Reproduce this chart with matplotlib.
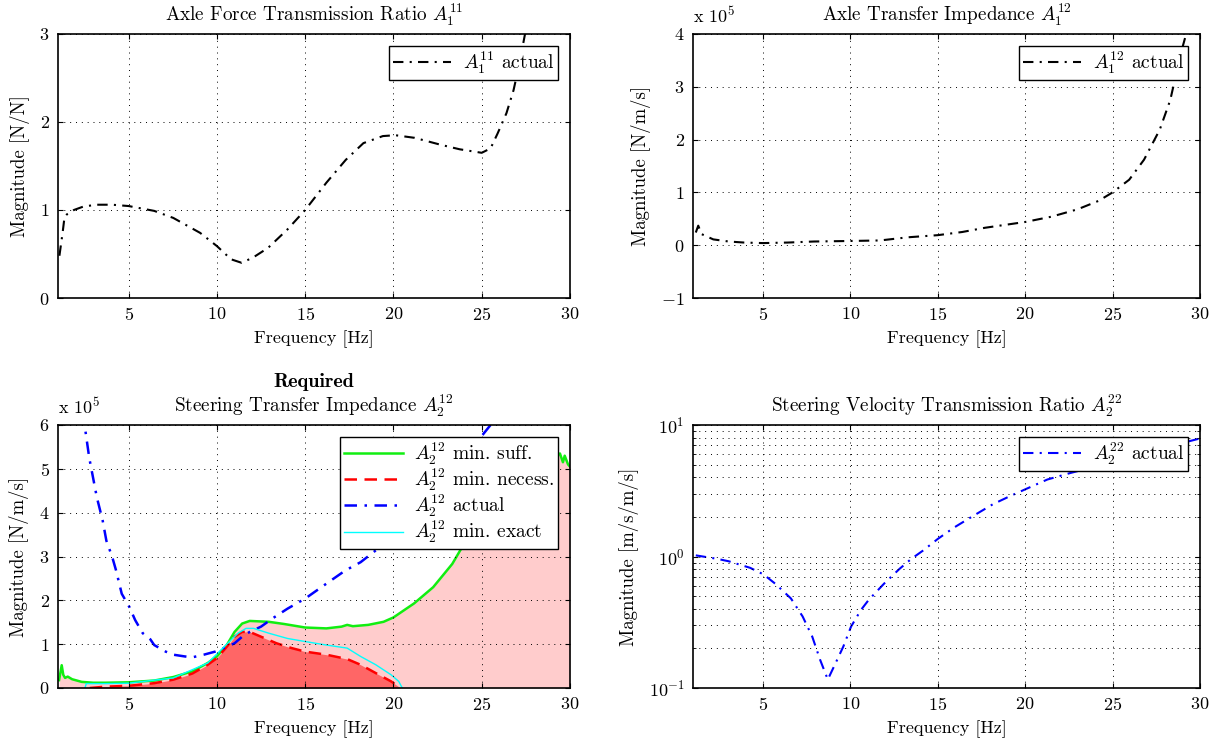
import matplotlib
matplotlib.use('Agg')
import matplotlib.pyplot as plt

# Computer Modern look, like the MATLAB/LaTeX export
plt.rcParams['font.family'] = 'cmr10'
plt.rcParams['mathtext.fontset'] = 'cm'
plt.rcParams['axes.formatter.use_mathtext'] = True
plt.rcParams['font.size'] = 13

# Axle force transmission ratio A1^11 [N/N]
f11 = [1.08, 1.26, 1.37, 1.5, 1.7, 1.9, 2.45, 3.2, 4.07, 5.0, 6.45, 7.53, 9.05, 10.0,
       10.8, 11.4, 12.05, 12.9, 14.0, 15.0, 16.2, 17.3, 18.3, 19.4, 20.1, 21.2, 22.7,
       23.75, 25.0, 25.5, 25.9, 26.4, 26.8, 27.1, 27.5]
a11 = [0.48, 0.74, 0.92, 0.95, 0.97, 1.0, 1.04, 1.06, 1.06, 1.045, 0.99, 0.91, 0.74, 0.59,
       0.44, 0.40, 0.46, 0.57, 0.78, 1.0, 1.31, 1.57, 1.76, 1.84, 1.85, 1.82, 1.74,
       1.69, 1.65, 1.70, 1.87, 2.1, 2.36, 2.63, 3.05]

# Axle transfer impedance A1^12 [N/m/s], in units of 1e5
f12 = [1.16, 1.3, 1.49, 2.16, 3.04, 3.93, 5.0, 6.4, 7.93, 10.0, 11.7, 13.3, 15.0, 16.4,
       17.7, 20.0, 21.5, 23.0, 24.2, 25.0, 25.95, 26.8, 27.7, 28.3, 28.6, 28.95, 29.25]
a12 = [0.24, 0.37, 0.21, 0.11, 0.07, 0.05, 0.04, 0.05, 0.07, 0.08, 0.09, 0.15, 0.19, 0.25,
       0.33, 0.44, 0.54, 0.68, 0.84, 1.0, 1.24, 1.62, 2.19, 2.75, 3.19, 3.69, 4.05]

# Steering transfer impedance A2^12 [N/m/s], in units of 1e5
f_suff = [1.06, 1.21, 1.3, 1.4, 1.55, 1.8, 2.34, 3.0, 3.66, 5.0, 6.45, 7.53, 8.61, 9.48,
          10.0, 10.56, 11.0, 11.43, 11.86, 12.94, 13.81, 15.0, 16.2, 17.06, 17.38, 17.7,
          18.57, 19.44, 20.0, 21.17, 22.25, 23.33, 24.0, 24.63, 25.5, 26.5, 27.5, 28.5,
          29.2, 29.43, 29.6, 29.7, 29.89, 30.0]
a_suff = [0.18, 0.52, 0.3, 0.23, 0.26, 0.2, 0.14, 0.12, 0.12, 0.13, 0.17, 0.25, 0.38, 0.57,
          0.72, 0.98, 1.28, 1.47, 1.53, 1.51, 1.46, 1.38, 1.36, 1.40, 1.44, 1.41,
          1.44, 1.51, 1.61, 1.93, 2.3, 2.83, 3.29, 3.89, 4.45, 4.85, 5.1, 5.22,
          5.28, 5.35, 5.15, 5.3, 5.1, 5.05]

f_nec = [2.8, 3.66, 5.0, 6.45, 7.53, 8.61, 9.48, 10.0, 10.56, 11.0, 11.43, 11.86, 12.5,
         13.38, 14.24, 15.0, 16.2, 17.38, 18.14, 19.0, 19.87, 20.4]
a_nec = [0.0, 0.03, 0.05, 0.11, 0.19, 0.33, 0.53, 0.68, 0.94, 1.17, 1.28, 1.28, 1.17,
         1.02, 0.91, 0.83, 0.76, 0.66, 0.53, 0.34, 0.15, 0.0]

f_act = [2.4, 2.77, 3.2, 3.53, 3.74, 4.07, 4.29, 4.61, 5.04, 5.37, 5.8, 6.23, 6.45, 7.1,
         7.53, 8.18, 8.61, 9.26, 9.9, 10.56, 11.0, 11.43, 11.86, 12.5, 13.16, 14.0, 15.0,
         16.2, 17.27, 18.14, 19.0, 19.65, 21.0, 22.5, 24.0, 25.06, 25.7]
a_act = [6.3, 5.25, 4.35, 3.82, 3.36, 2.99, 2.68, 2.15, 1.85, 1.55, 1.25, 1.11, 0.98, 0.83,
         0.76, 0.72, 0.70, 0.76, 0.83, 0.94, 1.02, 1.17, 1.28, 1.40, 1.59, 1.81, 2.04,
         2.38, 2.68, 2.87, 3.14, 3.36, 4.0, 4.7, 5.35, 5.78, 6.1]

f_exact = [2.53, 2.6, 3.66, 5.0, 7.53, 9.48, 10.56, 11.2, 11.65, 12.08, 12.94, 14.0, 15.0,
           16.2, 17.38, 18.14, 19.0, 19.87, 20.3, 20.5]
a_exact = [0.0, 0.1, 0.1, 0.11, 0.23, 0.57, 1.0, 1.25, 1.36, 1.36, 1.25, 1.13, 1.06,
           0.98, 0.91, 0.72, 0.53, 0.30, 0.15, 0.0]

# Steering velocity transmission ratio A2^22 [m/s/m/s]
f22 = [1.16, 2.38, 3.04, 4.27, 5.04, 5.71, 6.6, 7.27, 7.82, 8.27, 8.71, 9.16, 9.6, 10.04,
       10.6, 11.04, 11.93, 12.82, 13.49, 14.16, 15.0, 15.93, 17.04, 18.16, 19.04, 20.0,
       21.27, 22.6, 23.7, 25.0, 27.5, 30.0]
a22 = [1.02, 0.96, 0.92, 0.82, 0.73, 0.62, 0.48, 0.35, 0.246, 0.164, 0.116, 0.155, 0.207,
       0.293, 0.391, 0.466, 0.622, 0.807, 0.96, 1.11, 1.36, 1.66, 2.04, 2.5, 2.84, 3.24,
       3.85, 4.32, 4.71, 5.3, 6.5, 7.9]

xticks = [5, 10, 15, 20, 25, 30]
dashdot = (0, (5, 3, 1, 3))


def style_axis(ax, title, ylabel):
    ax.set_xlim(1, 30)
    ax.set_xticks(xticks)
    ax.set_xlabel('Frequency [Hz]', labelpad=5)
    ax.set_ylabel(ylabel, fontsize=13.5, labelpad=7)
    ax.set_title(title, pad=9, fontsize=13.8)
    ax.tick_params(direction='in', top=True, right=True, which='both', pad=6)
    ax.grid(True, color='black', linestyle=(0, (1, 5)), linewidth=0.7)
    ax.set_axisbelow(False)
    for s in ax.spines.values():
        s.set_linewidth(1.2)


def add_legend(ax):
    leg = ax.legend(loc='upper right', fancybox=False, framealpha=1, edgecolor='black',
                    fontsize=14, handlelength=3.0, borderaxespad=0.6, labelspacing=0.0,
                    borderpad=0.2, handletextpad=0.6)
    leg.get_frame().set_linewidth(1.0)
    return leg


fig = plt.figure(figsize=(12.26, 7.46), dpi=100)
W, H = 1226, 746


def axes_px(x0, x1, y0, y1):
    return fig.add_axes([x0 / W, 1 - y1 / H, (x1 - x0) / W, (y1 - y0) / H])


# top left
ax1 = axes_px(58, 570, 34, 298)
ax1.plot(f11, a11, color='black', linestyle=dashdot, linewidth=1.5, label=r'$A_1^{11}$ actual')
ax1.set_ylim(0, 3)
ax1.set_yticks([0, 1, 2, 3])
style_axis(ax1, r'Axle Force Transmission Ratio $A_1^{11}$', 'Magnitude [N/N]')
add_legend(ax1)

# top right
ax2 = axes_px(693, 1200, 34, 298)
ax2.plot(f12, a12, color='black', linestyle=dashdot, linewidth=1.5, label=r'$A_1^{12}$ actual')
ax2.set_ylim(-1, 4)
ax2.set_yticks([-1, 0, 1, 2, 3, 4])
style_axis(ax2, r'Axle Transfer Impedance $A_1^{12}$', 'Magnitude [N/m/s]')
ax2.text(0, 1.03, r'x 10$^5$', transform=ax2.transAxes, ha='left', va='bottom')
add_legend(ax2)

# bottom left
ax3 = axes_px(58, 570, 425, 688)
ax3.fill_between(f_suff, 0, a_suff, color='#ffcccc', linewidth=0, zorder=1)
ax3.fill_between(f_nec, 0, a_nec, color='#ff6666', linewidth=0, zorder=1.1)
ax3.plot(f_suff, a_suff, color='#11ee11', linewidth=1.8, label=r'$A_2^{12}$ min. suff.')
ax3.plot(f_nec, a_nec, color='#ff0000', linestyle=(0, (5, 3)), linewidth=1.8,
         label=r'$A_2^{12}$ min. necess.')
ax3.plot(f_act, a_act, color='#0000ff', linestyle=dashdot, linewidth=1.8,
         label=r'$A_2^{12}$ actual')
ax3.plot(f_exact, a_exact, color='#00ffff', linewidth=1.0, label=r'$A_2^{12}$ min. exact')
ax3.set_ylim(0, 6)
ax3.set_yticks([0, 1, 2, 3, 4, 5, 6])
style_axis(ax3, r'Steering Transfer Impedance $A_2^{12}$', 'Magnitude [N/m/s]')
ax3.text(0, 1.03, r'x 10$^5$', transform=ax3.transAxes, ha='left', va='bottom')
ax3.text(0.5, 1.13, 'Required', transform=ax3.transAxes, ha='center', va='bottom',
         family='cmb10', fontsize=14.5)
add_legend(ax3)

# bottom right
ax4 = axes_px(693, 1200, 425, 688)
ax4.semilogy(f22, a22, color='#0000ff', linestyle=dashdot, linewidth=1.5,
             label=r'$A_2^{22}$ actual')
ax4.set_ylim(0.1, 10)
style_axis(ax4, r'Steering Velocity Transmission Ratio $A_2^{22}$', 'Magnitude [m/s/m/s]')
ax4.grid(True, which='minor', axis='y', color='black', linestyle=(0, (1, 5)), linewidth=0.7)
add_legend(ax4)

fig.savefig('out.png', dpi=100)
